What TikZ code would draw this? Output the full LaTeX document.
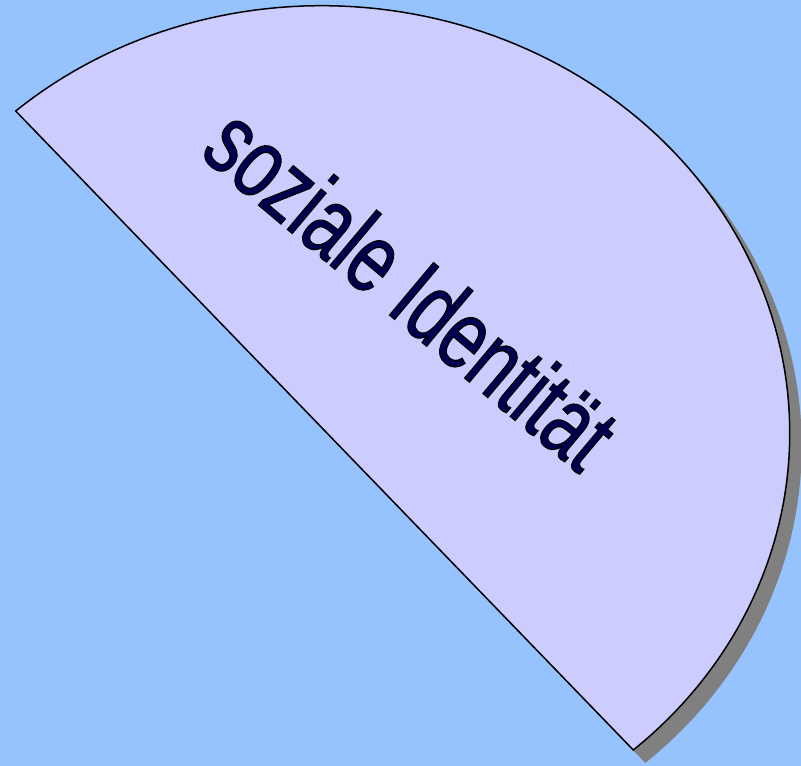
\documentclass[tikz,border=0pt]{standalone}
\usepackage{fontspec}
\newfontfamily\segfont[FakeStretch=0.72]{Liberation Sans}
\definecolor{bgblue}{RGB}{150,195,253}
\definecolor{discfill}{RGB}{204,204,255}
\definecolor{shadowgray}{RGB}{128,128,128}
\definecolor{textnavy}{RGB}{0,0,80}
% filled letters with a thin black edge
\newcommand{\edged}[1]{\special{pdf:literal direct 2 Tr 1.2 w 0 0 0 RG}#1\special{pdf:literal direct 0 Tr}}

\begin{document}
\begin{tikzpicture}[x=1pt,y=-1pt,
  disc/.style={fill=discfill,draw=black,line width=1.5pt},
  discshadow/.style={fill=shadowgray,shift={(12,13)}},
  wordlabel/.style={text=textnavy,inner sep=0pt,
    font=\segfont\fontsize{99.6}{100}\selectfont}
]
% centre of the chord and the two half axes (pixels)
\def\cx{324.5}
\def\cy{430.5}
\def\ax{308.8}
\def\ay{319.5}
\def\bx{348}
\def\by{-280}

\fill[bgblue] (0,0) rectangle (801,766);
\useasboundingbox (0,0) rectangle (801,766);

% shadow, then the half disc
\fill[discshadow] plot[variable=\t,domain=0:180,samples=121]
  ({\cx+\ax*cos(\t)+\bx*sin(\t)},{\cy+\ay*cos(\t)+\by*sin(\t)}) -- cycle;
\draw[disc] plot[variable=\t,domain=0:180,samples=121]
  ({\cx+\ax*cos(\t)+\bx*sin(\t)},{\cy+\ay*cos(\t)+\by*sin(\t)}) -- cycle;

\node[wordlabel,rotate=-40] (ident) at (412,287.5) {\edged{soziale Identität}};
\end{tikzpicture}
\end{document}
